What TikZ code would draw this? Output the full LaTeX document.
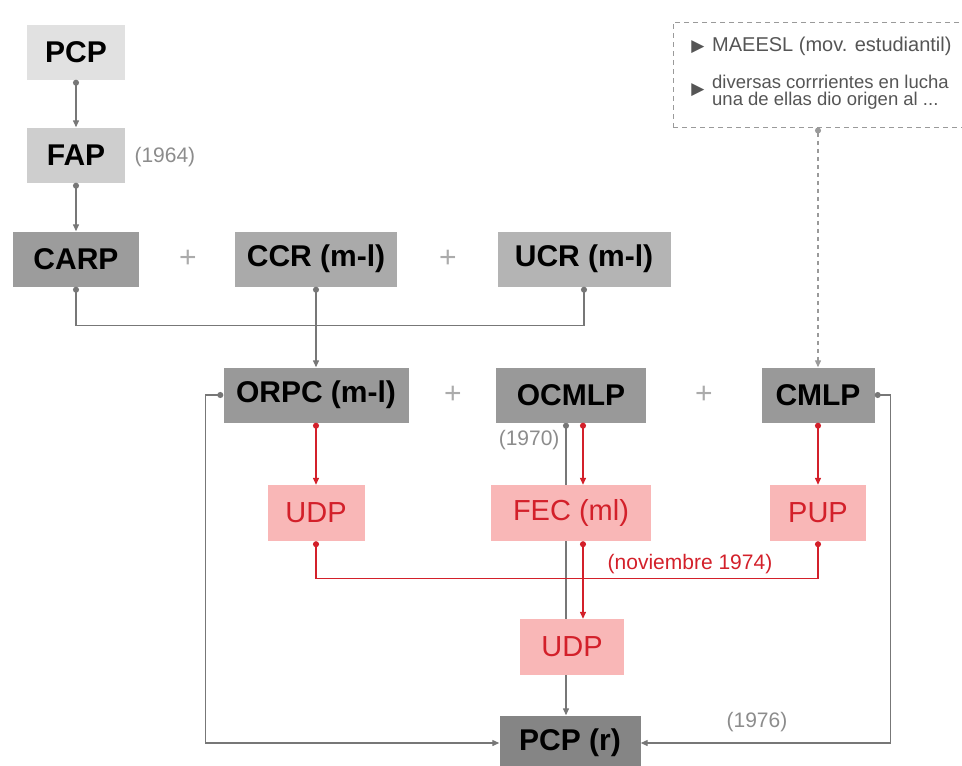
\documentclass[tikz,border=0pt]{standalone}
\usepackage{fontspec}
\setmainfont{Liberation Sans}
\newfontfamily\symfont{DejaVu Sans}
\usetikzlibrary{positioning}
\usetikzlibrary{arrows.meta}
\usetikzlibrary{backgrounds}

\definecolor{lightbox}{HTML}{E1E1E1}
\definecolor{midbox}{HTML}{CECECE}
\definecolor{carpbox}{HTML}{9C9C9C}
\definecolor{ccrbox}{HTML}{AAAAAA}
\definecolor{ucrbox}{HTML}{B4B4B4}
\definecolor{darkbox}{HTML}{999999}
\definecolor{darkerbox}{HTML}{858585}
\definecolor{pinkbox}{HTML}{F9B7B7}
\definecolor{redline}{HTML}{D3202A}
\definecolor{linegray}{HTML}{777777}
\definecolor{notegray}{HTML}{9A9A9A}
\definecolor{notetext}{HTML}{555555}
\definecolor{yeargray}{HTML}{8C8C8C}
\definecolor{plusgray}{HTML}{ABABAB}

\tikzset{
  org/.style={rectangle, inner sep=0pt, minimum height=55pt, text=black,
    font=\bfseries\fontsize{30}{30}\selectfont},
  front/.style={rectangle, fill=pinkbox, inner sep=0pt, minimum height=56pt,
    text=redline, font=\fontsize{29}{29}\selectfont},
  plus/.style={text=plusgray, font=\fontsize{30}{30}\selectfont},
  year/.style={text=yeargray, font=\fontsize{21}{21}\selectfont},
  link/.style={draw=linegray, line width=1.3pt,
    {Circle[length=6pt]}-{Triangle[length=7pt,width=6pt]}},
  joint/.style={link, {Circle[length=6pt]}-{Circle[length=6pt]}},
  redlink/.style={link, draw=redline},
  redjoint/.style={joint, draw=redline},
  notelink/.style={link, draw=notegray, dash pattern=on 4pt off 4pt},
  bullet/.style={text=notetext, inner sep=0pt, font=\symfont\fontsize{17}{17}\selectfont},
}

\begin{document}
\begin{tikzpicture}[x=1pt,y=-1pt]
\useasboundingbox (0,0) rectangle (962,766);

% first line
\node[org, fill=lightbox, minimum width=98pt] (pcp) at (76,52) {PCP};
\node[org, fill=midbox, minimum width=98pt] (fap) at (76,155) {FAP};
\node[year, anchor=west] (y1964) at (131,157) {(1964)};
\node[org, fill=carpbox, minimum width=126pt] (carp) at (76,259) {CARP};
\node[plus] (p1) at (188,259) {+};
\node[org, fill=ccrbox, minimum width=162pt] (ccr) at (316,259) {CCR (m-l)};
\node[plus] (p2) at (448,259) {+};
\node[org, fill=ucrbox, minimum width=173pt] (ucr) at (584,259) {UCR (m-l)};

% note on the right
\node[draw=notegray, dash pattern=on 5pt off 4pt, line width=1pt, inner sep=0pt,
  minimum width=293pt, minimum height=105pt] (note) at (819.5,74.5) {};
\node[bullet] (b1) at (698,47) {▶};
\node[anchor=west, inner sep=0pt, text=notetext, font=\fontsize{20}{20}\selectfont]
  (t1) at (712,46) {MAEESL (mov. estudiantil)};
\node[bullet] (b2) at (698,90) {▶};
\node[anchor=west, inner sep=0pt, align=left, text=notetext,
  font=\fontsize{18.5}{17.5}\selectfont]
  (t2) at (712,92) {diversas corrrientes en lucha\\una de ellas dio origen al ...};

% second line
\node[org, fill=darkbox, minimum width=185pt] (orpc) at (316,395) {ORPC (m-l)};
\node[plus] (p3) at (453,395) {+};
\node[org, fill=darkbox, minimum width=150pt] (ocmlp) at (571,395) {OCMLP};
\node[plus] (p4) at (704,395) {+};
\node[org, fill=darkbox, minimum width=113pt] (cmlp) at (818,395) {CMLP};

% fronts
\node[front, minimum width=97pt] (udpa) at (316,513) {UDP};
\node[front, minimum width=160pt] (fec) at (571,513) {FEC (ml)};
\node[front, minimum width=96pt] (pup) at (818,513) {PUP};
\node[front, minimum width=104pt] (udpb) at (572,647) {UDP};
\node[org, fill=darkerbox, minimum width=141pt] (pcpr) at (570,743) {PCP (r)};

\node[year, anchor=east] (y1970) at (563,440) {(1970)};
\node[text=redline, font=\fontsize{21}{21}\selectfont] (nov) at (690,564) {(noviembre 1974)};
\node[year] (y1976) at (757,722) {(1976)};

% gray links
\draw[link] (pcp.south) -- (fap.north);
\draw[link] (fap.south) -- (carp.north);
\draw[joint] (carp.south) -- ++(0,39) -| (ucr.south);
\draw[link] (ccr.south) -- (orpc.north);
\draw[notelink] (note.south -| cmlp.north) -- (cmlp.north);
\draw[link] (orpc.west) -- ++(-18,0) |- (pcpr.west);
\draw[link] (cmlp.east) -- ++(16,0) |- (pcpr.east);
\begin{pgfonlayer}{background}
\draw[link] ([xshift=-5pt]ocmlp.south) -- ([xshift=-5pt]ocmlp.south |- pcpr.north);
\end{pgfonlayer}

% red links
\draw[redlink] (orpc.south) -- (udpa.north);
\draw[redlink] ([xshift=12pt]ocmlp.south) -- ([xshift=12pt]ocmlp.south |- fec.north);
\draw[redlink] (cmlp.south) -- (pup.north);
\draw[redjoint] (udpa.south) -- ++(0,37) -| (pup.south);
\draw[redlink] ([xshift=12pt]fec.south) -- ([xshift=12pt]fec.south |- udpb.north);
\end{tikzpicture}
\end{document}
